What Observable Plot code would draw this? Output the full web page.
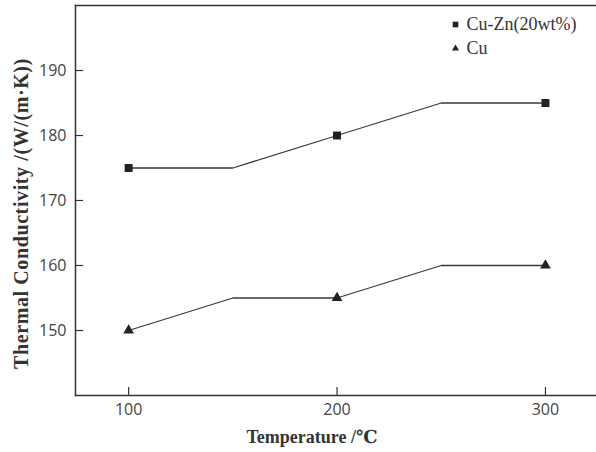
<!DOCTYPE html>
<html>
<head>
<meta charset="utf-8">
<script src="https://cdn.jsdelivr.net/npm/d3@7"></script>
<script src="https://cdn.jsdelivr.net/npm/@observablehq/plot@0.6"></script>
<style>
  html, body { margin: 0; padding: 0; background: #fff; }
  #chart svg { display: block; }
</style>
</head>
<body>
<div id="chart"></div>
<script>
// Line vertices (temperature, °C)
const temps = [100, 150, 200, 250, 300];
const cuZnValues = [175, 175, 180, 185, 185];
const cuValues = [150, 155, 155, 160, 160];
// Measured points (markers)
const markerTemps = [100, 200, 300];
const cuZnMarkers = [175, 180, 185];
const cuMarkers = [150, 155, 160];
// Ticks and labels
const xTicks = [100, 200, 300];
const yTicks = [150, 160, 170, 180, 190];
const seriesNames = ["Cu-Zn(20wt%)", "Cu"];
const xLabel = "Temperature /℃";
const yLabel = "Thermal Conductivity /(W/(m·K))";

const cuZnLine = temps.map((t, i) => ({t, v: cuZnValues[i]}));
const cuLine = temps.map((t, i) => ({t, v: cuValues[i]}));
const cuZnPts = markerTemps.map((t, i) => ({t, v: cuZnMarkers[i]}));
const cuPts = markerTemps.map((t, i) => ({t, v: cuMarkers[i]}));

const ink = "#333";
const serif = "'Liberation Serif', 'DejaVu Serif', serif";
const sans = "'Open Sans', 'DejaVu Sans', sans-serif";

const chart = Plot.plot({
  width: 596,
  height: 452,
  marginLeft: 75,
  marginRight: 0,
  marginTop: 5,
  marginBottom: 57,
  style: {background: "#fff", color: ink},
  x: {domain: [74.5, 324.5]},
  y: {domain: [140, 200]},
  marks: [
    Plot.frame({anchor: "left", stroke: ink, strokeWidth: 1.5}),
    Plot.frame({anchor: "bottom", stroke: ink, strokeWidth: 1.5}),
    Plot.frame({anchor: "top", stroke: ink, strokeWidth: 1.5}),
    Plot.axisX({ticks: xTicks, tickSize: -8, tickPadding: 16, label: null,
      fontSize: 16, fontFamily: sans, stroke: null, fill: "#444", strokeWidth: 1.2}),
    Plot.axisX({ticks: xTicks, tickSize: -8, tickFormat: () => "", label: null, stroke: ink, strokeWidth: 1.2}),
    Plot.axisY({ticks: yTicks, tickSize: -8, tickPadding: 17, label: null,
      fontSize: 16, fontFamily: sans, fill: "#444", stroke: ink, strokeWidth: 1.2}),
    Plot.line(cuZnLine, {x: "t", y: "v", stroke: "#3a3a3a", strokeWidth: 1.3}),
    Plot.line(cuLine, {x: "t", y: "v", stroke: "#3a3a3a", strokeWidth: 1.3}),
    Plot.dot(cuZnPts, {x: "t", y: "v", symbol: "square", r: 4.5, fill: "#222", stroke: null}),
    Plot.dot(cuPts, {x: "t", y: "v", symbol: "triangle", r: 4, fill: "#222", stroke: null}),
    // legend
    Plot.dot([seriesNames[0]], {frameAnchor: "top-right", dx: -141, dy: 19, symbol: "square", r: 3.2, fill: "#222", stroke: null}),
    Plot.dot([seriesNames[1]], {frameAnchor: "top-right", dx: -141, dy: 43, symbol: "triangle", r: 2.6, fill: "#222", stroke: null}),
    Plot.text([seriesNames[0]], {text: d => d, frameAnchor: "top-right", dx: -130, dy: 19, textAnchor: "start",
      lineAnchor: "middle", fontSize: 18, fontFamily: serif, fill: ink}),
    Plot.text([seriesNames[1]], {text: d => d, frameAnchor: "top-right", dx: -130, dy: 43, textAnchor: "start",
      lineAnchor: "middle", fontSize: 18, fontFamily: serif, fill: ink}),
    // axis titles
    Plot.text([xLabel], {text: d => d, frameAnchor: "bottom", dx: -24, dy: 42, fontSize: 18,
      textAnchor: "middle", lineAnchor: "middle", fontWeight: "bold", fontFamily: serif, fill: ink}),
    Plot.text([yLabel], {text: d => d, frameAnchor: "left", rotate: -90, dx: -54, dy: 13, fontSize: 20,
      textAnchor: "middle", lineAnchor: "middle", fontWeight: "bold", fontFamily: serif, fill: ink})
  ]
});
d3.select(chart).selectAll("text").filter(function() { return this.textContent === yLabel; })
  .style("letter-spacing", "0.6px");
document.getElementById("chart").append(chart);
</script>
</body>
</html>
